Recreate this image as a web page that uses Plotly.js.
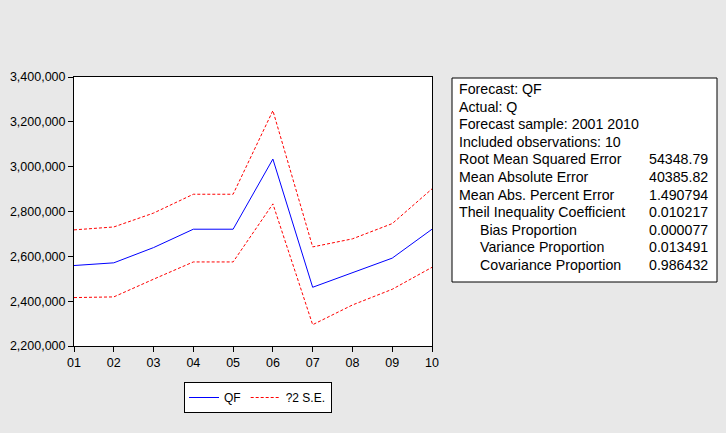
<!DOCTYPE html>
<html>
<head>
<meta charset="utf-8">
<script src="https://cdn.plot.ly/plotly-3.0.1.min.js"></script>
<style>html,body{margin:0;padding:0;background:#E8E8E8;}#chart{width:726px;height:433px;}</style>
</head>
<body>
<div id="chart"></div>
<script>
const periods = ["01","02","03","04","05","06","07","08","09","10"];
const qf    = [2559000, 2571000, 2639000, 2721000, 2721000, 3034000, 2462000, 2527000, 2592000, 2721000];
const upper = [2718000, 2731000, 2793000, 2877000, 2877000, 3250000, 2642000, 2678000, 2746000, 2901000];
const lower = [2416000, 2419000, 2498000, 2575000, 2575000, 2834000, 2295000, 2383000, 2453000, 2551000];
const yTicks = [2200000, 2400000, 2600000, 2800000, 3000000, 3200000, 3400000];

const statLabels = ["Forecast: QF","Actual: Q","Forecast sample: 2001 2010","Included observations: 10",
  "Root Mean Squared Error","Mean Absolute Error","Mean Abs. Percent Error","Theil Inequality Coefficient",
  "Bias Proportion","Variance Proportion","Covariance Proportion"];
const statValues = ["","","","","54348.79","40385.82","1.490794","0.010217","0.000077","0.013491","0.986432"];
const statIndent = [0,0,0,0,0,0,0,0,1,1,1];

const W = 726, H = 433, L = 74, R = 432, T = 77, B = 346;
const xp = px => (px - L) / (R - L);
const yp = py => (B - py) / (B - T);

const FONT = "Liberation Sans, Arial, sans-serif";

const annotations = [];
statLabels.forEach((s, i) => {
  const cy = 89 + 17.6 * i;
  annotations.push({text: s, xref: "paper", yref: "paper", x: xp(statIndent[i] ? 478 : 456.5), y: yp(cy),
    xanchor: "left", yanchor: "middle", showarrow: false, font: {family: FONT, size: 14.2, color: "#000"}});
  if (statValues[i]) annotations.push({text: statValues[i], xref: "paper", yref: "paper", x: xp(710), y: yp(cy),
    xanchor: "right", yanchor: "middle", showarrow: false, font: {family: FONT, size: 14.2, color: "#000"}});
});

const traces = [
  {x: periods, y: qf, type: "scatter", mode: "lines", name: "QF", line: {color: "#0000FF", width: 1}},
  {x: periods, y: upper, type: "scatter", mode: "lines", name: "?2 S.E.", legendgroup: "se", line: {color: "#FF0000", width: 1, dash: "3px,2px"}},
  {x: periods, y: lower, type: "scatter", mode: "lines", name: "?2 S.E.", legendgroup: "se", showlegend: false, line: {color: "#FF0000", width: 1, dash: "3px,2px"}}
];

const layout = {
  width: W, height: H,
  margin: {l: L, r: W - R, t: T, b: H - B, pad: 0},
  paper_bgcolor: "#E8E8E8", plot_bgcolor: "#FFFFFF",
  font: {family: FONT, size: 12.5, color: "#000"},
  xaxis: {type: "category", range: [0, 9], showgrid: false, zeroline: false, showline: true, mirror: true,
    linecolor: "#000", linewidth: 1, ticks: "outside", ticklen: 5, tickcolor: "#000",
    tickfont: {family: FONT, size: 12.5, color: "#000"}},
  yaxis: {range: [2200000, 3400000], tickvals: yTicks, tickformat: ",d", showgrid: false, zeroline: false,
    showline: true, mirror: true, linecolor: "#000", linewidth: 1, ticks: "outside", ticklen: 5, tickcolor: "#000",
    tickfont: {family: FONT, size: 12.5, color: "#000"}},
  showlegend: true,
  legend: {orientation: "h", x: xp(184), xanchor: "left", y: yp(382), yanchor: "top",
    bgcolor: "#FFFFFF", bordercolor: "#000", borderwidth: 1, font: {family: FONT, size: 12, color: "#000"},
    itemwidth: 30, tracegroupgap: 0},
  shapes: [{type: "rect", xref: "paper", yref: "paper", x0: xp(452), x1: xp(717), y0: yp(282), y1: yp(78),
    line: {color: "#000", width: 1}, fillcolor: "#FFFFFF", layer: "below"}],
  annotations: annotations
};

Plotly.newPlot("chart", traces, layout, {displayModeBar: false, staticPlot: true});
</script>
</body>
</html>
